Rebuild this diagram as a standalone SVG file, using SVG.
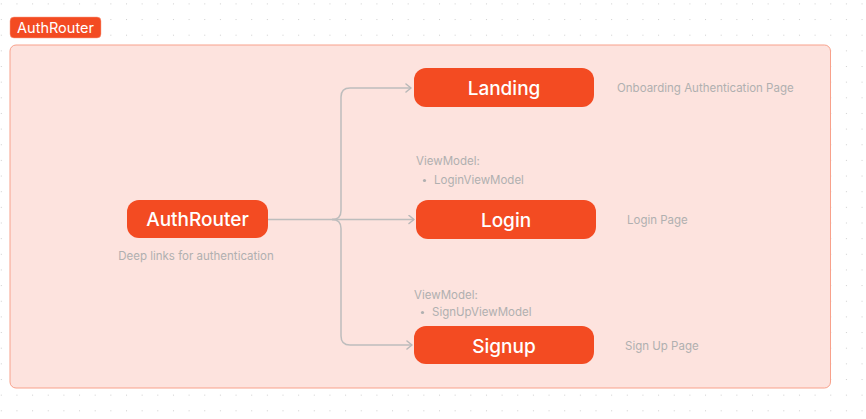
<svg xmlns="http://www.w3.org/2000/svg" width="866" height="419" viewBox="0 0 866 419">
<defs>
<pattern id="grid" x="0.8" y="3.4" width="15.65" height="15.65" patternUnits="userSpaceOnUse">
<rect x="0" y="0" width="1" height="1" fill="#cfcfcf"/>
</pattern>
<marker id="arr" markerWidth="10" markerHeight="12" refX="6" refY="5" orient="auto" markerUnits="userSpaceOnUse">
<path d="M1,1 L6,5 L1,9" fill="none" stroke="#b8b8b8" stroke-width="1.5" stroke-linecap="round" stroke-linejoin="round"/>
</marker>
<style>
.node{fill:#f34b22;}
.nt{font-family:Inter,"Liberation Sans",sans-serif;fill:#ffffff;text-anchor:middle;font-size:19px;font-weight:500;}
.lbl{font-family:Inter,"Liberation Sans",sans-serif;fill:#b0b0b0;font-size:11.5px;}
.conn{fill:none;stroke:#bdbdbd;stroke-width:1.5;}
</style>
</defs>
<rect width="866" height="419" fill="#ffffff"/>
<rect width="866" height="419" fill="url(#grid)"/>
<g id="group-authrouter">
<rect x="10" y="45" width="820.5" height="343" rx="6" fill="#fde3de" stroke="#f8a18b" stroke-width="1"/>
<rect x="10" y="17" width="91" height="21" rx="4" fill="#f34b22" stroke="#f8a18b" stroke-width="0.5"/>
<text x="55.5" y="32.5" font-family="Inter,'Liberation Sans',sans-serif" font-size="14.5" fill="#ffffff" text-anchor="middle">AuthRouter</text>
</g>
<g id="connectors">
<path class="conn" d="M268 219.5 H414" marker-end="url(#arr)"/>
<path class="conn" d="M332 219.5 Q341 219.5 341 210.5 V97 Q341 88 350 88 H411" marker-end="url(#arr)"/>
<path class="conn" d="M332 219.5 Q341 219.5 341 228.5 V336 Q341 345 350 345 H412" marker-end="url(#arr)"/>
</g>
<g id="node-authrouter">
<rect class="node" x="127" y="200" width="141" height="38" rx="12"/>
<text class="nt" x="197.5" y="226">AuthRouter</text>
<text class="lbl" x="196" y="260" text-anchor="middle">Deep links for authentication</text>
</g>
<g id="node-landing">
<rect class="node" x="414" y="68" width="180" height="39" rx="12"/>
<text class="nt" x="504" y="94.5">Landing</text>
<text class="lbl" x="617" y="92">Onboarding Authentication Page</text>
</g>
<g id="node-login">
<text class="lbl" x="416" y="165">ViewModel:</text>
<circle cx="424.5" cy="180.5" r="1.6" fill="#b0b0b0"/>
<text class="lbl" x="434" y="184">LoginViewModel</text>
<rect class="node" x="416" y="200" width="180" height="39" rx="12"/>
<text class="nt" x="506" y="226.5">Login</text>
<text class="lbl" x="627" y="224">Login Page</text>
</g>
<g id="node-signup">
<text class="lbl" x="414" y="299">ViewModel:</text>
<circle cx="422.5" cy="312.5" r="1.6" fill="#b0b0b0"/>
<text class="lbl" x="432" y="316">SignUpViewModel</text>
<rect class="node" x="414" y="326" width="180" height="38" rx="12"/>
<text class="nt" x="504" y="352.5">Signup</text>
<text class="lbl" x="625" y="350">Sign Up Page</text>
</g>
</svg>
